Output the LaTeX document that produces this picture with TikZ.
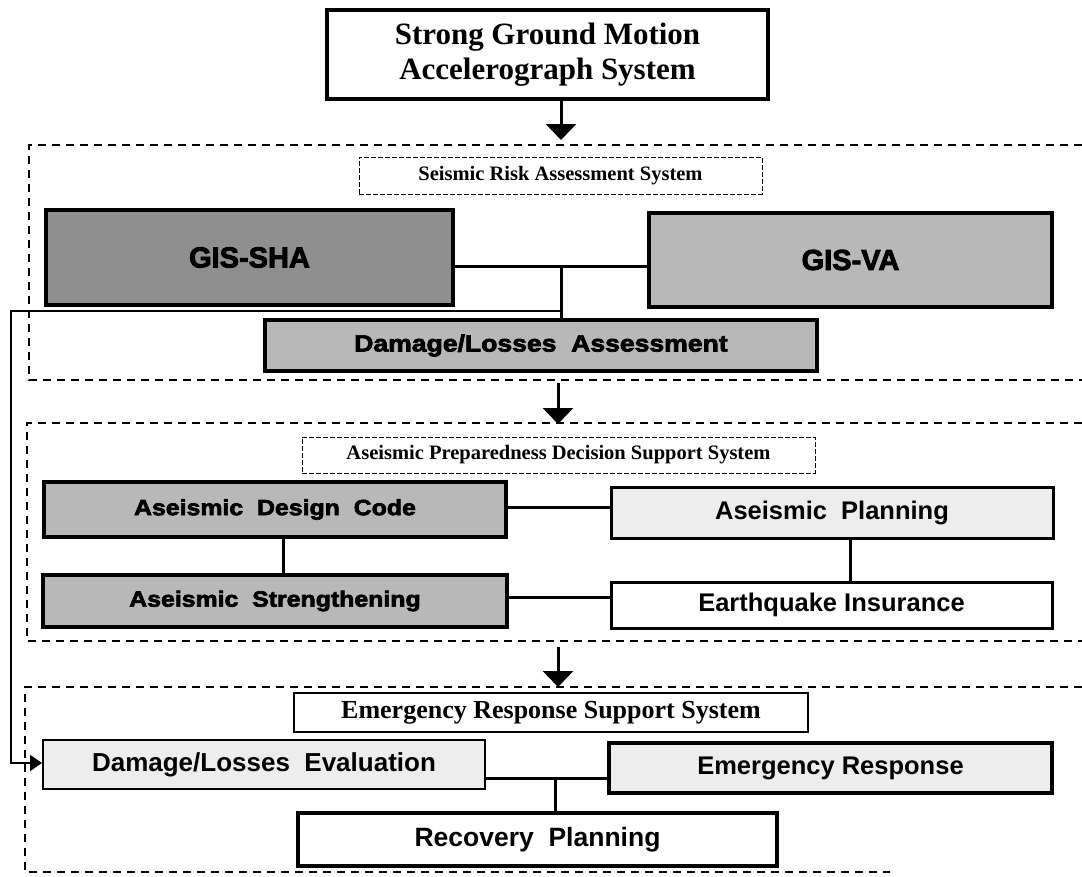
\documentclass[tikz,border=0pt]{standalone}
\usepackage{fontspec}
\setmainfont{Liberation Serif}
\newfontfamily\arialf{Liberation Sans}
\newfontfamily\heavyf[BoldFeatures={FakeBold=3,FakeStretch=1.13}]{Liberation Sans}
\newfontfamily\heavyg[BoldFeatures={FakeBold=3}]{Liberation Sans}
\usetikzlibrary{arrows.meta}
\definecolor{darkfill}{gray}{0.56}
\definecolor{midfill}{gray}{0.72}
\definecolor{lightfill}{gray}{0.93}
\tikzset{
  bx/.style={draw, inner sep=0pt, align=center, text=black},
  sec/.style={line width=1.1pt, dash pattern=on 8pt off 6pt},
  lbl/.style={draw, line width=0.7pt, dash pattern=on 5pt off 2pt, inner sep=0pt, align=center},
  conn/.style={line width=3pt},
  feed/.style={line width=2pt, -{Triangle[width=16pt,length=12pt]}},
  bigarrow/.style={line width=3pt, -{Triangle[width=30pt,length=16pt]}},
  times/.style={font=\bfseries\fontsize{#1}{#1}\selectfont},
  sansb/.style={font=\arialf\bfseries\fontsize{#1}{#1}\selectfont},
  heavy/.style={font=\heavyf\bfseries\fontsize{#1}{#1}\selectfont},
  heavyn/.style={font=\heavyg\bfseries\fontsize{#1}{#1}\selectfont}
}
\begin{document}
\begin{tikzpicture}[x=1pt,y=-1pt]
\useasboundingbox (0,0) rectangle (1082,876);

% dashed sections (open on the right)
\draw[sec] (1082,145) -- (29,145) -- (29,380) -- (1082,380);
\draw[sec] (1082,423) -- (27,423) -- (27,641) -- (1082,641);
\draw[sec] (1082,687) -- (25,687) -- (25,872) -- (890,872);

% top box
\node[bx, line width=3.5pt, minimum width=441pt, minimum height=89pt,
      font=\bfseries\fontsize{31}{35}\selectfont] (top) at (547.5,54.5)
  {Strong Ground Motion\\Accelerograph System};

% section 1
\node[lbl, minimum width=403pt, minimum height=37pt, times=20.5] (srlabel) at (560.5,175.5)
  {Seismic Risk Assessment System};
\node[bx, line width=4pt, fill=darkfill, minimum width=407pt, minimum height=95pt, heavyn=29] (sha) at (249.5,257.5) {GIS-SHA};
\node[bx, line width=3.5pt, fill=midfill, minimum width=403pt, minimum height=94pt, heavyn=29] (va) at (850.5,260) {GIS-VA};
\node[bx, line width=4pt, fill=midfill, minimum width=552pt, minimum height=51pt, heavy=23.5] (dla) at (541,345.5) {Damage/Losses\ \ Assessment};

% section 2
\node[lbl, minimum width=513pt, minimum height=36pt, times=20.5] (aplabel) at (558.5,455)
  {Aseismic Preparedness Decision Support System};
\node[bx, line width=3.5pt, fill=midfill, minimum width=462pt, minimum height=55pt, heavy=22] (adc) at (275,509.5) {Aseismic\ \ Design\ \ Code};
\node[bx, line width=3pt, fill=lightfill, minimum width=442pt, minimum height=51pt, sansb=25.5] (ap) at (832,512.5) {Aseismic\ \ Planning};
\node[bx, line width=4pt, fill=midfill, minimum width=464pt, minimum height=52pt, heavy=22] (as) at (275,601) {Aseismic\ \ Strengthening};
\node[bx, line width=3pt, fill=white, minimum width=441pt, minimum height=46pt, sansb=25.5] (ei) at (831.5,605) {Earthquake Insurance};

% section 3
\node[bx, line width=1.5pt, minimum width=514pt, minimum height=39pt, times=26] (erlabel) at (551,712.5)
  {Emergency Response Support System};
\node[bx, line width=2pt, fill=lightfill, minimum width=442pt, minimum height=49pt, sansb=26] (dle) at (264,764.5) {Damage/Losses\ \ Evaluation};
\node[bx, line width=3.5pt, fill=lightfill, minimum width=443pt, minimum height=50pt, sansb=25.5] (er) at (830.5,768) {Emergency Response};
\node[bx, line width=3.5pt, fill=white, minimum width=479pt, minimum height=53pt, sansb=26.5] (rp) at (537.5,839.5) {Recovery\ \ Planning};

% coordinates
\coordinate (a1) at (561,140);
\coordinate (a2s) at (558,383);
\coordinate (a2e) at (558,424);
\coordinate (a3s) at (558,647);
\coordinate (a3e) at (558,687);
\coordinate (j1) at (561,266);
\coordinate (j2) at (561,311);
\coordinate (f1) at (11,311);
\coordinate (f2) at (11,763);
\coordinate (j3) at (283,507);
\coordinate (j4) at (850,597);
\coordinate (j5) at (555,778);

% arrows between systems
\draw[bigarrow] (top.south -| a1) -- (a1);
\draw[bigarrow] (a2s) -- (a2e);
\draw[bigarrow] (a3s) -- (a3e);

% connectors section 1
\draw[conn] (sha.east |- j1) -- (va.west |- j1);
\draw[conn] (j1) -- (dla.north -| j1);
\draw[feed] (j2) -- (f1) -- (f2) -- (dle.west |- f2);

% connectors section 2
\draw[conn] (adc.east |- j3) -- (ap.west |- j3);
\draw[conn] (adc.south -| j3) -- (as.north -| j3);
\draw[conn] (ap.south -| j4) -- (ei.north -| j4);
\draw[conn] (as.east |- j4) -- (ei.west |- j4);

% connectors section 3
\draw[conn] (dle.east |- j5) -- (er.west |- j5);
\draw[conn] (j5) -- (rp.north -| j5);
\end{tikzpicture}
\end{document}
